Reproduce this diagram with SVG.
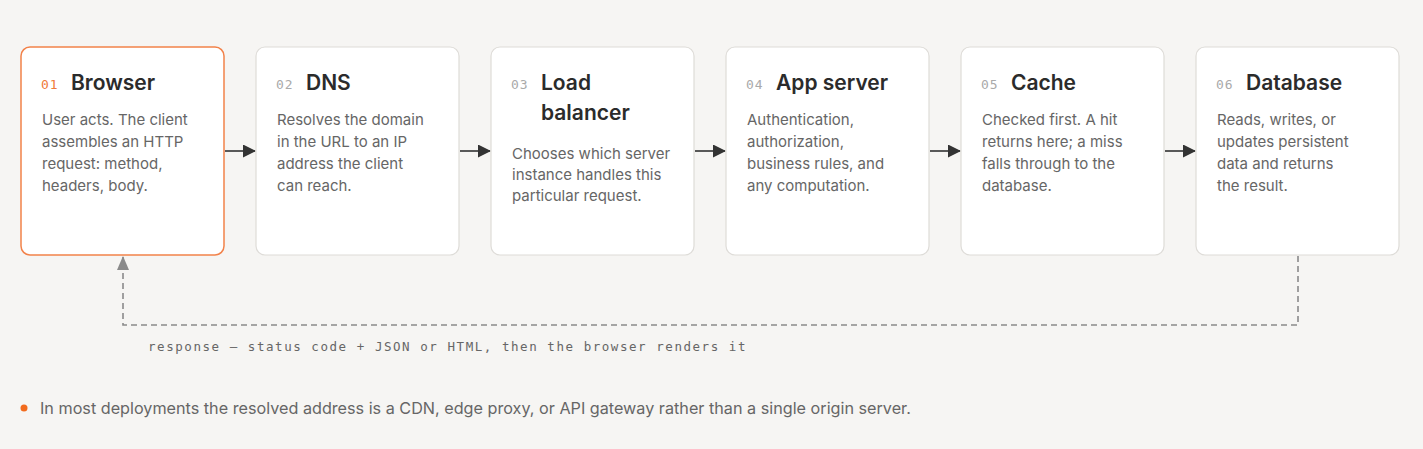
<svg xmlns="http://www.w3.org/2000/svg" width="1423" height="449" viewBox="0 0 1423 449">
<defs>
<style>
.box{fill:#ffffff;stroke:#dedcd8;stroke-width:1.2}
.box.active{stroke:#f2824a;stroke-width:1.5}
.num{font-family:"DejaVu Sans Mono","Liberation Mono",monospace;font-size:13px;fill:#aaaaaa;letter-spacing:0.8px}
.num.active{fill:#f07a3a}
.title{font-family:Inter,"Liberation Sans",sans-serif;font-size:21px;font-weight:600;fill:#2b2b2b}
.body{font-family:Inter,"Liberation Sans",sans-serif;font-size:15px;fill:#666666}
.flow{stroke:#333333;stroke-width:1.6;fill:none}
.ret{stroke:#8a8a8a;stroke-width:1.6;fill:none;stroke-dasharray:6 4}
.lbl{font-family:"DejaVu Sans Mono","Liberation Mono",monospace;font-size:12.5px;fill:#666666;letter-spacing:1.55px}
.note{font-family:Inter,"Liberation Sans",sans-serif;font-size:16.2px;fill:#666666}
</style>
<marker id="ah" markerWidth="13" markerHeight="13" refX="12" refY="6.5" orient="auto" markerUnits="userSpaceOnUse">
<path d="M0,0 L13,6.5 L0,13 z" fill="#333333"/>
</marker>
<marker id="ahg" markerWidth="14" markerHeight="12" refX="13" refY="6" orient="auto" markerUnits="userSpaceOnUse">
<path d="M0,0 L14,6 L0,12 z" fill="#8a8a8a"/>
</marker>
</defs>
<rect width="1423" height="449" fill="#f6f5f3"/>

<g id="connectors">
<line class="flow" x1="225" y1="151" x2="255" y2="151" marker-end="url(#ah)"/>
<line class="flow" x1="460" y1="151" x2="490" y2="151" marker-end="url(#ah)"/>
<line class="flow" x1="695" y1="151" x2="725" y2="151" marker-end="url(#ah)"/>
<line class="flow" x1="930" y1="151" x2="960" y2="151" marker-end="url(#ah)"/>
<line class="flow" x1="1165" y1="151" x2="1195" y2="151" marker-end="url(#ah)"/>
<path class="ret" d="M1298,256 L1298,325 L123,325 L123,257" marker-end="url(#ahg)"/>
<text class="lbl" x="148" y="351">response — status code + JSON or HTML, then the browser renders it</text>
</g>

<g id="node-browser">
<rect class="box active" x="21" y="47" width="203" height="208" rx="9"/>
<text class="num active" x="41" y="89">01</text>
<text class="title" x="71" y="90">Browser</text>
<text class="body" x="42" y="125">User acts. The client</text>
<text class="body" x="42" y="147">assembles an HTTP</text>
<text class="body" x="42" y="169">request: method,</text>
<text class="body" x="42" y="191">headers, body.</text>
</g>

<g id="node-dns">
<rect class="box" x="256" y="47" width="203" height="208" rx="9"/>
<text class="num" x="276" y="89">02</text>
<text class="title" x="306" y="90">DNS</text>
<text class="body" x="277" y="125">Resolves the domain</text>
<text class="body" x="277" y="147">in the URL to an IP</text>
<text class="body" x="277" y="169">address the client</text>
<text class="body" x="277" y="191">can reach.</text>
</g>

<g id="node-lb">
<rect class="box" x="491" y="47" width="203" height="208" rx="9"/>
<text class="num" x="511" y="89">03</text>
<text class="title" x="541" y="90">Load</text>
<text class="title" x="541" y="120">balancer</text>
<text class="body" x="512" y="159">Chooses which server</text>
<text class="body" x="512" y="180">instance handles this</text>
<text class="body" x="512" y="201">particular request.</text>
</g>

<g id="node-app">
<rect class="box" x="726" y="47" width="203" height="208" rx="9"/>
<text class="num" x="746" y="89">04</text>
<text class="title" x="776" y="90">App server</text>
<text class="body" x="747" y="125">Authentication,</text>
<text class="body" x="747" y="147">authorization,</text>
<text class="body" x="747" y="169">business rules, and</text>
<text class="body" x="747" y="191">any computation.</text>
</g>

<g id="node-cache">
<rect class="box" x="961" y="47" width="203" height="208" rx="9"/>
<text class="num" x="981" y="89">05</text>
<text class="title" x="1011" y="90">Cache</text>
<text class="body" x="982" y="125">Checked first. A hit</text>
<text class="body" x="982" y="147">returns here; a miss</text>
<text class="body" x="982" y="169">falls through to the</text>
<text class="body" x="982" y="191">database.</text>
</g>

<g id="node-db">
<rect class="box" x="1196" y="47" width="203" height="208" rx="9"/>
<text class="num" x="1216" y="89">06</text>
<text class="title" x="1246" y="90">Database</text>
<text class="body" x="1217" y="125">Reads, writes, or</text>
<text class="body" x="1217" y="147">updates persistent</text>
<text class="body" x="1217" y="169">data and returns</text>
<text class="body" x="1217" y="191">the result.</text>
</g>

<g id="footnote">
<circle cx="24" cy="408" r="3.5" fill="#f26b1d"/>
<text class="note" x="40" y="414">In most deployments the resolved address is a CDN, edge proxy, or API gateway rather than a single origin server.</text>
</g>
</svg>
